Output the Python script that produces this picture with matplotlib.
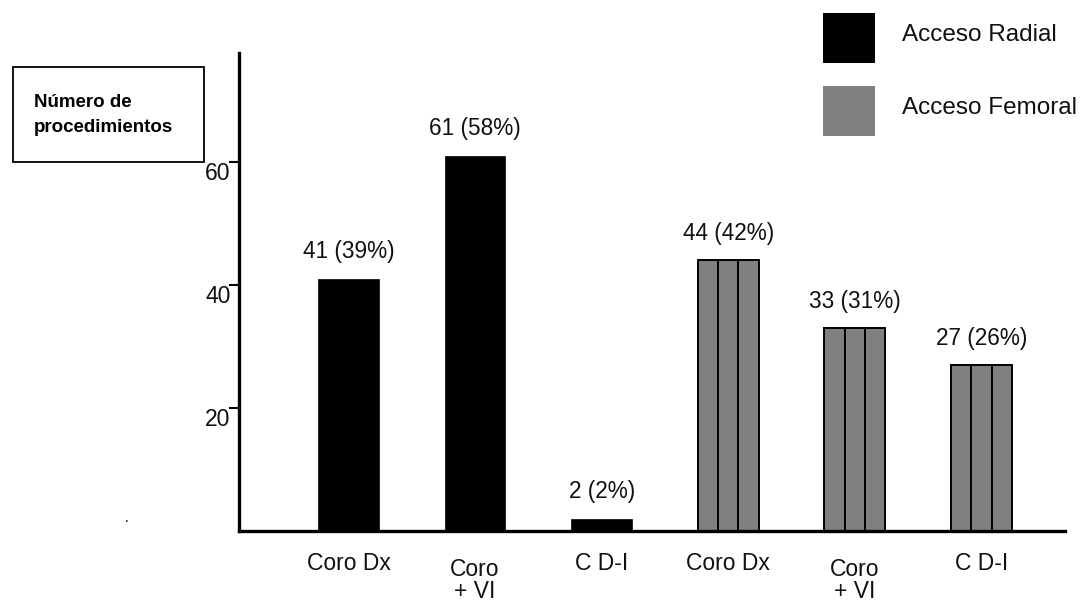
import matplotlib
matplotlib.use('Agg')
import matplotlib.pyplot as plt
import matplotlib.patches as patches
import numpy as np

# Procedures by access route
categories = ["Coro Dx", "Coro\n+ VI", "C D-I", "Coro Dx", "Coro\n+ VI", "C D-I"]
counts = [41, 61, 2, 44, 33, 27]
percents = [39, 58, 2, 42, 31, 26]
access = ["radial", "radial", "radial", "femoral", "femoral", "femoral"]
yticks = [20, 40, 60]

W, H = 1080, 603
plt.rcParams['font.family'] = ['Liberation Sans', 'DejaVu Sans']


def px(x, y):
    # pixel position (from top-left) -> figure fraction
    return x / W, 1 - y / H


fig = plt.figure(figsize=(W / 100, H / 100), dpi=100)
ax = fig.add_axes([239 / W, (H - 531) / H, (1065 - 239) / W, (531 - 53) / H])

x = np.arange(len(counts))
width = 0.48
for xi, n, kind in zip(x, counts, access):
    if kind == "radial":
        ax.bar(xi, n, width, color='black', edgecolor='black', linewidth=0.5)
    else:
        # femoral bars are split in three columns
        sub = width / 3
        for k in (-1, 0, 1):
            ax.bar(xi + k * sub, n, sub, color='#808080', edgecolor='black', linewidth=1.4)

for xi, n, p in zip(x, counts, percents):
    ax.annotate(f"{n} ({p}%)", (xi, n), xytext=(0, 11), textcoords='offset points',
                ha='center', va='bottom', fontsize=16.3, color='#111111')

for xi, lab in zip(x, categories):
    off = 19.5 if "\n" in lab else 15
    ax.annotate(lab, (xi, 0), xycoords=('data', 'axes fraction'), xytext=(0, -off),
                textcoords='offset points', ha='center', va='top', fontsize=16.5,
                linespacing=0.95, color='#111111')

ax.set_xlim(-0.865, 5.66)
ax.set_ylim(0, 77.7)
ax.set_xticks([])
ax.set_yticks(yticks)
ax.set_yticklabels([str(t) for t in yticks], fontsize=16.5, color='#111111')
for lab in ax.get_yticklabels():
    lab.set_va('top')
ax.tick_params(axis='y', length=7, width=1.5, pad=-1, direction='out')
for s in ('top', 'right'):
    ax.spines[s].set_visible(False)
for s in ('left', 'bottom'):
    ax.spines[s].set_linewidth(2.4)
    ax.spines[s].set_capstyle('projecting')

# y-axis caption box
x0, y0 = px(13, 162)
x1, y1 = px(204, 67)
fig.patches.append(patches.Rectangle((x0, y0), x1 - x0, y1 - y0, transform=fig.transFigure,
                                     facecolor='white', edgecolor='black', linewidth=1.3))
fig.text(*px(34, 115), "Número de\nprocedimientos", ha='left', va='center',
         fontsize=13.5, fontweight='bold', linespacing=1.6)

# legend squares
for (ytop, color, label) in [(13, 'black', "Acceso Radial"), (86, '#808080', "Acceso Femoral")]:
    lx, ly = px(823, ytop + 50)
    fig.patches.append(patches.Rectangle((lx, ly), 52 / W, 50 / H, transform=fig.transFigure,
                                         facecolor=color, edgecolor='none'))
    fig.text(*px(902, ytop + 22), label, ha='left', va='center', fontsize=17.5,
             color='#111111')

fig.text(*px(127, 518), ".", ha='center', va='center', fontsize=10)

fig.savefig('out.png', dpi=100)
